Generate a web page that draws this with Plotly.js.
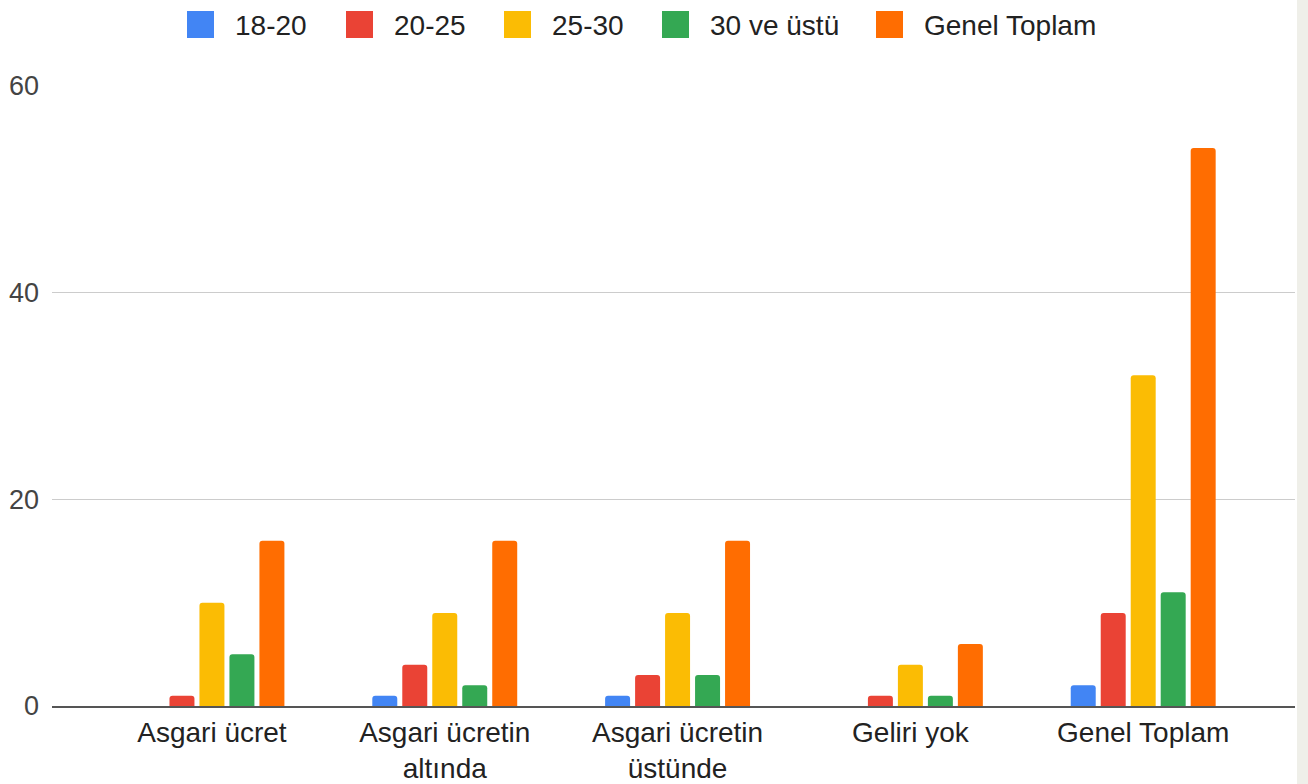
<!DOCTYPE html>
<html>
<head>
<meta charset="utf-8">
<script src="https://cdn.plot.ly/plotly-3.0.1.min.js"></script>
<style>
  html, body { margin: 0; padding: 0; background: #efefe9; }
  #chart { width: 1297px; height: 784px; background: #ffffff; }
</style>
</head>
<body>
<div id="chart"></div>
<script>
const categories = ["Asgari ücret", "Asgari ücretin<br>altında", "Asgari ücretin<br>üstünde", "Geliri yok", "Genel Toplam"];
const seriesNames = ["18-20", "20-25", "25-30", "30 ve üstü", "Genel Toplam"];
const s18_20 = [0, 1, 1, 0, 2];
const s20_25 = [1, 4, 3, 1, 9];
const s25_30 = [10, 9, 9, 4, 32];
const s30plus = [5, 2, 3, 1, 11];
const sTotal = [16, 16, 16, 6, 54];
const colors = ["#4285F4", "#EA4335", "#FBBC04", "#34A853", "#FF6D01"];
const yTicks = [0, 20, 40, 60];

// layout constants (pixels)
const W = 1297, H = 784;
const M = { l: 52, r: 2, t: 86, b: 78 };
const plotW = W - M.l - M.r, plotH = H - M.t - M.b;
const px2x = p => (p - M.l) / plotW;
const px2y = p => (H - M.b - p) / plotH;
// custom legend item positions (left edge of swatch, pixels)
const legendSwatchX = [187, 346, 504, 662, 876];
const swatchSize = 27, swatchTop = 11, legendTextGap = 19, legendMidY = 25;

const allSeries = [s18_20, s20_25, s25_30, s30plus, sTotal];
const traces = allSeries.map((vals, i) => ({
  type: "bar",
  name: seriesNames[i],
  x: categories.map((c, k) => k),
  y: vals,
  marker: { color: colors[i], cornerradius: 3 },
  showlegend: false,
  hoverinfo: "y+name"
}));

const shapes = seriesNames.map((n, i) => ({
  type: "rect", xref: "paper", yref: "paper",
  x0: px2x(legendSwatchX[i]), x1: px2x(legendSwatchX[i] + swatchSize),
  y0: px2y(swatchTop + swatchSize), y1: px2y(swatchTop),
  fillcolor: colors[i], line: { width: 0 }
}));
const annotations = seriesNames.map((n, i) => ({
  xref: "paper", yref: "paper",
  x: px2x(legendSwatchX[i] + swatchSize + legendTextGap), y: px2y(legendMidY),
  xanchor: "left", yanchor: "middle",
  text: n, showarrow: false,
  font: { size: 28, color: "#222222" }
}));

const layout = {
  width: W,
  height: H,
  margin: M,
  paper_bgcolor: "#ffffff",
  plot_bgcolor: "#ffffff",
  barmode: "group",
  bargap: 0.356,
  bargroupgap: 0.167,
  font: { family: "Liberation Sans, Arial, sans-serif", size: 28, color: "#222222" },
  showlegend: false,
  shapes: shapes,
  annotations: annotations,
  xaxis: {
    range: [-0.687, 4.652],
    tickmode: "array",
    tickvals: categories.map((c, k) => k),
    ticktext: categories,
    showgrid: false,
    zeroline: false,
    showline: true,
    linecolor: "#555555",
    linewidth: 2,
    ticks: "",
    tickfont: { size: 28, color: "#222222" },
    fixedrange: true
  },
  yaxis: {
    range: [0, 60],
    tickmode: "array",
    tickvals: yTicks,
    ticktext: yTicks.map(String),
    showgrid: true,
    gridcolor: "#cccccc",
    gridwidth: 1,
    zeroline: false,
    showline: false,
    ticks: "",
    ticklabelstandoff: 12,
    tickfont: { size: 27, color: "#444444" },
    fixedrange: true
  }
};

Plotly.newPlot("chart", traces, layout, { displayModeBar: false, staticPlot: true });
</script>
</body>
</html>
